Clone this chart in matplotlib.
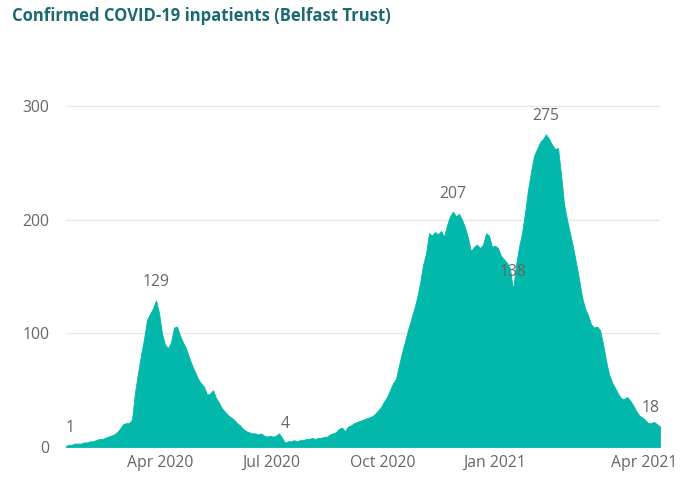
import matplotlib.pyplot as plt

# daily inpatient counts, sampled along the time axis
inpatients = [
    1, 2, 2, 3, 3, 3, 4, 4, 5, 5, 6, 7, 7, 8, 9, 10, 11, 13, 16, 20,
    21, 21, 24, 48, 65, 81, 95, 112, 117, 122, 129, 118, 100, 90, 87, 92, 105, 106, 98, 92,
    87, 79, 72, 66, 60, 56, 53, 46, 47, 50, 43, 39, 34, 31, 28, 26, 24, 21, 19, 16,
    14, 13, 12, 12, 11, 12, 10, 9, 10, 9, 10, 12, 8, 4, 5, 5, 6, 5, 6, 6,
    7, 7, 8, 7, 8, 8, 9, 9, 11, 12, 13, 16, 17, 14, 18, 19, 21, 22, 23, 24,
    25, 26, 27, 29, 32, 35, 40, 44, 50, 56, 60, 72, 83, 93, 103, 112, 121, 131, 144, 160,
    170, 188, 186, 189, 187, 190, 185, 195, 203, 207, 203, 205, 200, 193, 184, 172, 176, 178, 175, 178,
    188, 186, 176, 177, 175, 168, 165, 162, 157, 138, 160, 176, 188, 206, 226, 242, 256, 262, 268, 271,
    275, 271, 266, 262, 263, 240, 214, 200, 188, 176, 162, 148, 132, 122, 116, 108, 105, 106, 103, 91,
    76, 64, 57, 52, 47, 43, 42, 44, 41, 37, 32, 28, 26, 24, 21, 21, 22, 20, 18,
]
# points that get a value label
label_idx = [0, 30, 73, 129, 149, 160, 198]

tick_pos = [31.3, 68.3, 105.7, 143, 192.7]
tick_labels = ['Apr 2020', 'Jul 2020', 'Oct 2020', 'Jan 2021', 'Apr 2021']

plt.rcParams['font.family'] = ['Open Sans', 'DejaVu Sans']

fig = plt.figure(figsize=(6.81, 4.78), dpi=100)
ax = fig.add_axes([66 / 681, 31 / 478, 594 / 681, 387 / 478])

x = list(range(len(inpatients)))
ax.fill_between(x, inpatients, 0, color='#01B8AA', linewidth=0.6, edgecolor='#01B8AA', zorder=2)

ax.set_xlim(0, len(inpatients) - 1)
ax.set_ylim(0, 340.4)
ax.set_yticks([0, 100, 200, 300])
ax.set_xticks(tick_pos)
ax.set_xticklabels(tick_labels)
ax.tick_params(axis='both', length=0, labelsize=11.3, labelcolor='#666666')
ax.tick_params(axis='y', pad=12)
ax.tick_params(axis='x', pad=6)
ax.grid(axis='y', color='#e8e8e8', linewidth=1, zorder=0)
for s in ax.spines.values():
    s.set_visible(False)

for i in label_idx:
    ha = 'center'
    dx = 0
    if i == 0:
        dx = 3
    if i == len(inpatients) - 1:
        dx = -7
    ax.annotate(str(inpatients[i]), (i, inpatients[i]), xytext=(dx, 13),
                textcoords='offset points', ha=ha, va='center',
                fontsize=11.3, color='#666666', zorder=3)

fig.text(12 / 681, 1 - 16 / 478, 'Confirmed COVID-19 inpatients (Belfast Trust)',
         fontsize=12, fontweight='bold', color='#1b6a72', ha='left', va='center')

fig.savefig('out.png', dpi=100)
